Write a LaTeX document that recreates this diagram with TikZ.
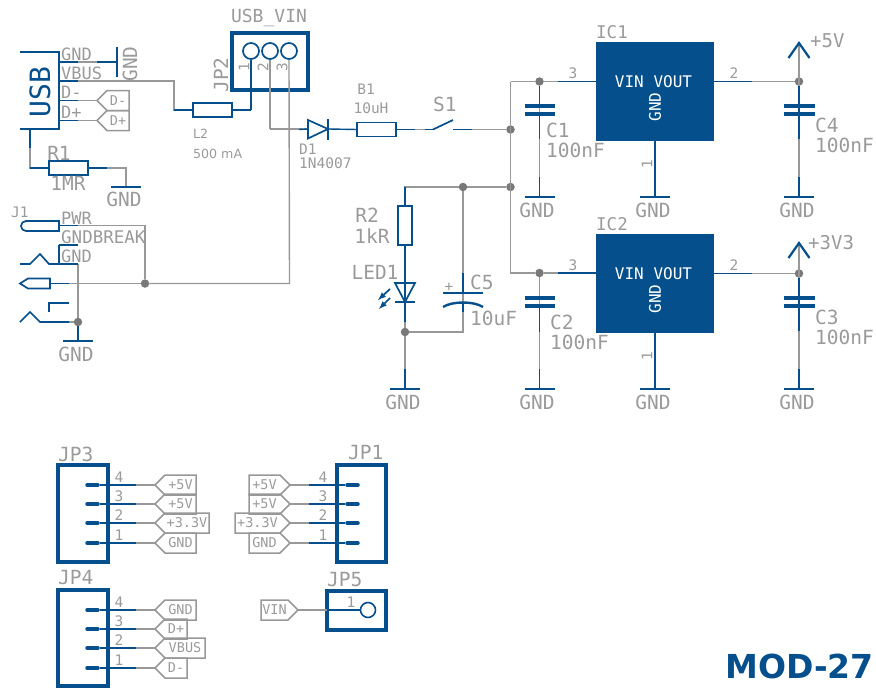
\documentclass[tikz,border=0pt]{standalone}
\usepackage{fontspec}
\usepackage{tikz}
\usetikzlibrary{calc,shapes.symbols}
\newfontfamily\schfont{DejaVu Sans Mono}
\newfontfamily\capfont{DejaVu Sans}
\definecolor{schblue}{HTML}{05508C}
\definecolor{schnet}{HTML}{989898}
\definecolor{schtext}{HTML}{9A9A9A}
\begin{document}
\begin{tikzpicture}[x=1pt,y=-1pt]
\path [use as bounding box] (0,0) rectangle (876,688);
\tikzstyle{bullet} = [circle, fill=gray!95!black, inner sep=0pt, minimum size=8.5pt]
\tikzstyle{net} = [schnet, line width=1.4pt]
\tikzstyle{pin} = [schblue, line width=1.4pt]
\tikzstyle{sym} = [schblue, line width=1.7pt]
\tikzstyle{bar} = [schblue, line width=2.2pt]
\tikzstyle{plate} = [schblue, line width=3.4pt]
\tikzstyle{frame} = [schblue, line width=3.2pt]
\tikzstyle{stub} = [schblue, line width=3.5pt, line cap=round]
\tikzstyle{res} = [draw=schblue, line width=1.7pt, minimum width=39pt, minimum height=14pt, inner sep=0pt, outer sep=0pt]
\tikzstyle{ic} = [fill=schblue, minimum width=118pt, minimum height=99pt, inner sep=0pt, outer sep=0pt]
\tikzstyle{lab} = [schtext, inner sep=0pt, font=\schfont\fontsize{19.5}{20}\selectfont]
\tikzstyle{mid} = [schtext, inner sep=0pt, font=\schfont\fontsize{17}{17}\selectfont]
\tikzstyle{tiny} = [schtext, inner sep=0pt, font=\schfont\fontsize{14.5}{15}\selectfont]
\tikzstyle{inside} = [white, inner sep=0pt, font=\schfont\fontsize{16}{16}\selectfont]
\tikzstyle{port} = [signal, signal pointer angle=90, draw=schnet, line width=1.5pt, minimum height=20pt, inner sep=0pt, outer sep=0pt, text=schtext, font=\schfont\fontsize{13.5}{14}\selectfont]
\tikzstyle{portl} = [port, signal to=west, anchor=west]
\tikzstyle{portr} = [port, signal to=east, anchor=east]
% usb connector
\coordinate (usbG) at (59,62);
\coordinate (usbV) at (59,81);
\coordinate (usbS) at (30,129);
\coordinate (usbK) at (30,168);
\coordinate (gndA) at (117,62);
\coordinate (vbusA) at (174,81);
\coordinate (vbusB) at (174,110);
\coordinate (pinA) at (251,110);
\coordinate (r1A) at (126,168);
\coordinate (gndB) at (126,187);
\node[res] (L2) at (212.5,110) {};
\node[res] (R1) at (68.5,168) {};
\node[portl, minimum width=32pt] (pDm) at (97,100.5) {D-\hspace{7pt}};
\node[portl, minimum width=32pt] (pDp) at (97,120.5) {D+\hspace{7pt}};
\draw[net] (usbG) -- (gndA);
\draw[net] (usbV) -- (vbusA) -- (vbusB) -- (L2.west);
\draw[net] (L2.east) -- (pinA);
\draw[net] (59,100.5) -- (pDm.west);
\draw[net] (59,120.5) -- (pDp.west);
\draw[net] (usbS) -- (usbK) -- (R1.west);
\draw[net] (R1.east) -- (r1A) -- (gndB);
\draw[sym] (20,52) -- (59,52) -- (59,129) -- (20,129);
\draw[pin] (usbG) -- +(19,0);
\draw[pin] (gndA) -- +(-20,0);
\draw[pin] (usbV) -- +(19,0);
\draw[pin] (59,100.5) -- +(19,0);
\draw[pin] (59,120.5) -- +(19,0);
\draw[pin] (usbS) -- +(0,19);
\draw[pin] (usbK) -- (R1.west);
\draw[pin] (R1.east) -- +(19,0);
\draw[pin] (L2.west) -- +(-19,0);
\draw[pin] (L2.east) -- +(19,0);
\draw[bar] (gndA) +(0,-15) -- +(0,15);
\draw[bar] (gndB) +(-15,0) -- +(15,0);
\node[lab, schblue, rotate=90] (usbL) at (40,92) {\fontsize{28}{28}\selectfont USB};
\node[mid, anchor=west] (tGnd) at (61,54) {GND};
\node[mid, anchor=west] (tVbus) at (61,73) {VBUS};
\node[mid, anchor=west] (tDm) at (61,92) {D-};
\node[mid, anchor=west] (tDp) at (61,112) {D+};
\node[lab, rotate=90] (tGndA) at (130,64) {GND};
\node[lab] (tR1) at (59,153) {R1};
\node[lab] (t1MR) at (68,183) {1MR};
\node[lab] (tGndB) at (124,199) {GND};
\node[anchor=west, schtext, inner sep=0pt, font=\capfont\fontsize{12.6}{14}\selectfont] (tL2) at (193,134) {L2};
\node[anchor=west, schtext, inner sep=0pt, font=\capfont\fontsize{12.6}{14}\selectfont] (t500) at (193,154) {500 mA};
% jp2 header
\node[draw=schblue, line width=3.2pt, minimum width=76pt, minimum height=57pt, inner sep=0pt] (JP2) at (270,61.5) {};
\node[circle, draw=schblue, line width=1.7pt, inner sep=0pt, minimum size=16pt] (h1) at (251,51) {};
\node[circle, draw=schblue, line width=1.7pt, inner sep=0pt, minimum size=16pt] (h2) at (270,51) {};
\node[circle, draw=schblue, line width=1.7pt, inner sep=0pt, minimum size=16pt] (h3) at (289,51) {};
\coordinate (p2A) at (270,129);
\coordinate (p3A) at (289.5,283.5);
\node[bullet] (jPwr) at (145,283.5) {};
\draw[net] (h2.south) -- (p2A);
\draw[net] (h3.south) -- (p3A) -- (jPwr);
\draw[pin] (h1.south) -- (pinA);
\node[lab] (tUsbVin) at (269,18) {\fontsize{18}{18}\selectfont USB\_VIN};
\node[lab, rotate=90] (tJP2) at (221,75) {JP2};
\node[tiny, rotate=90] (n1) at (244,67) {1};
\node[tiny, rotate=90] (n2) at (263,67) {2};
\node[tiny, rotate=90] (n3) at (282,67) {3};
% diode, choke, switch
\coordinate (dA) at (308,129);
\coordinate (dB) at (328,129);
\coordinate (swA) at (433,129.5);
\coordinate (swB) at (453,129.5);
\node[res] (B1) at (376.5,129.5) {};
\node[bullet] (jSw) at (510.5,129.5) {};
\draw[net] (p2A) -- (dA);
\draw[net] (B1.east) -- (swA);
\draw[net] (swB) -- (jSw);
\draw[pin] (299,129.5) -- (dA);
\draw[pin] (dB) -- (B1.west);
\draw[pin] (B1.east) -- +(19,0);
\draw[pin] (swA) -- +(-8,0);
\draw[pin] (swB) -- +(19,0);
\draw[sym] (308,120) -- (dB) -- (308,138.5) -- cycle;
\draw[sym] (328,119) -- (328,140);
\draw[sym] (swA) -- (453,120);
\node[tiny] (tB1) at (366,89) {B1};
\node[tiny] (t10uH) at (371,108) {10uH};
\node[tiny, anchor=west] (tD1) at (299,149) {D1};
\node[tiny, anchor=west] (t1N) at (299,163) {1N4007};
\node[lab, anchor=west] (tS1) at (433,104) {S1};
% power rail
\coordinate (railT) at (510.5,81.5);
\coordinate (railB) at (510.5,273);
\node[bullet] (jC1) at (539.5,81.5) {};
\node[bullet] (jC2) at (539.5,273) {};
\node[bullet] (jR) at (510.5,187) {};
\node[bullet] (jC5) at (463,187) {};
\node[bullet] (jLed) at (405,332) {};
\coordinate (rT) at (405,187);
\coordinate (c5A) at (463,293);
\coordinate (c5B) at (463,332);
\node[res, minimum width=14pt, minimum height=39pt] (R2) at (405,225.5) {};
\node[ic] (IC1) at (655,91.5) {};
\node[ic] (IC2) at (655,283.5) {};
\draw[net] (railT) -- (railB) -- (jC2) -- (IC2.west |- jC2);
\draw[net] (railT) -- (jC1) -- (IC1.west |- jC1);
\draw[net] (jR) -- (jC5) -- (rT) -- (R2.north);
\draw[net] (jC5) -- (c5A);
\draw[net] (R2.south) -- (jLed) -- (405,389);
\draw[net] (c5A) -- (c5B) -- (jLed);
\draw[pin] (R2.north) -- +(0,-19);
\draw[pin] (R2.south) -- (405,322);
\draw[pin] (405,369) -- (405,389);
\draw[pin] (463,273) -- (c5A);
\draw[pin] (463,303) -- (463,312);
\draw[pin] (558,81.5) -- (IC1.west |- jC1);
\draw[pin] (558,273) -- (IC2.west |- jC2);
\draw[bar] (390,389) -- (420,389);
\draw[sym] (395,283) -- (415,283) -- (405,302) -- cycle;
\draw[sym] (395,302) -- (415,302);
\draw[plate, line width=2.4pt] (443,293) -- (483,293);
\draw[plate, line width=2.4pt] (443,307) .. controls (452,301) and (474,301) .. (483,307);
\draw[sym, -latex] (390,289) -- (378,300);
\draw[sym, -latex] (390,298) -- (379,309);
\node[lab] (tR2) at (367,215) {R2};
\node[lab] (t1kR) at (372,236) {1kR};
\node[lab] (tLED) at (375,272) {LED1};
\node[tiny] (tPlus) at (449,287) {+};
\node[lab, anchor=west] (tC5) at (470,282) {C5};
\node[lab, anchor=west] (t10uF) at (470,318) {10uF};
\node[lab] (tGndC) at (403,402) {GND};
% capacitors
\draw[net] (jC1) -- (539.5,197);
\draw[pin] (jC1) -- (539.5,106);
\draw[pin] (539.5,114) -- (539.5,139);
\draw[pin] (539.5,177) -- (539.5,197);
\draw[plate] (524.5,106) -- (554.5,106);
\draw[plate] (524.5,114) -- (554.5,114);
\draw[bar] (524.5,197) -- (554.5,197);
\draw[net] (jC2) -- (539.5,389);
\draw[pin] (539.5,306) -- (539.5,332);
\draw[pin] (539.5,369) -- (539.5,389);
\draw[plate] (524.5,298) -- (554.5,298);
\draw[plate] (524.5,306) -- (554.5,306);
\draw[bar] (524.5,389) -- (554.5,389);
\node[tiny] (n3a) at (573,73) {3};
\node[tiny] (n3b) at (573,265) {3};
\node[lab, anchor=west] (tC1) at (546,130) {C1};
\node[lab, anchor=west] (tC1v) at (546,150) {100nF};
\node[lab] (tGndD) at (537,210) {GND};
\node[lab, anchor=west] (tC2) at (550,322) {C2};
\node[lab, anchor=west] (tC2v) at (550,342) {100nF};
\node[lab] (tGndE) at (537,402) {GND};
% regulators
\node[bullet] (jOutA) at (799,81.5) {};
\node[bullet] (jOutB) at (799,273.5) {};
\coordinate (supA) at (799,43);
\coordinate (supB) at (799,243);
\draw[net] (IC1.east |- jOutA) -- (jOutA);
\draw[net] (IC2.east |- jOutB) -- (jOutB);
\draw[net] (supA) -- (799,197);
\draw[net] (supB) -- (799,389);
\draw[pin] (IC1.east |- jOutA) -- +(38,0);
\draw[pin] (IC2.east |- jOutB) -- +(38,0);
\draw[pin] (IC1.south) -- (655,197);
\draw[pin] (IC2.south) -- (655,389);
\draw[pin] (jOutA) -- (799,139);
\draw[pin] (799,177) -- (799,197);
\draw[pin] (jOutB) -- (799,331);
\draw[pin] (799,369) -- (799,389);
\draw[sym, line width=2.2pt] (supA) +(-10.5,15) -- (supA) -- +(10.5,15);
\draw[sym, line width=2.2pt] (supB) +(-10.5,15) -- (supB) -- +(10.5,15);
\draw[plate] (784,106) -- (815,106);
\draw[plate] (784,114) -- (815,114);
\draw[plate] (784,298) -- (815,298);
\draw[plate] (784,306) -- (815,306);
\draw[bar] (640,197) -- (670,197);
\draw[bar] (640,389) -- (670,389);
\draw[bar] (784,197) -- (814,197);
\draw[bar] (784,389) -- (814,389);
\node[inside] (vA) at (653.5,82) {VIN VOUT};
\node[inside] (vB) at (653.5,274) {VIN VOUT};
\node[inside, rotate=90] (gA) at (655,107) {GND};
\node[inside, rotate=90] (gB) at (655,299) {GND};
\node[mid, anchor=west] (tIC1) at (596,32) {\fontsize{17.5}{18}\selectfont IC1};
\node[mid, anchor=west] (tIC2) at (596,224) {\fontsize{17.5}{18}\selectfont IC2};
\node[tiny] (n2a) at (734,73) {2};
\node[tiny] (n2b) at (734,265) {2};
\node[tiny, rotate=90] (n1a) at (647,164) {1};
\node[tiny, rotate=90] (n1b) at (647,356) {1};
\node[mid, anchor=west] (t5V) at (810,41) {\fontsize{19}{19}\selectfont +5V};
\node[mid, anchor=west] (t3V3) at (808,243) {\fontsize{19}{19}\selectfont +3V3};
\node[lab, anchor=west] (tC4) at (815,125) {C4};
\node[lab, anchor=west] (tC4v) at (815,145) {100nF};
\node[lab, anchor=west] (tC3) at (815,317) {C3};
\node[lab, anchor=west] (tC3v) at (815,337) {100nF};
\node[lab] (tGndF) at (653,210) {GND};
\node[lab] (tGndG) at (653,402) {GND};
\node[lab] (tGndH) at (797,210) {GND};
\node[lab] (tGndI) at (797,402) {GND};
% power jack
\coordinate (jkA) at (59,225.5);
\coordinate (jkB) at (145,225.5);
\coordinate (jkC) at (78,264);
\coordinate (jkD) at (50,283.5);
\node[bullet] (jGnd) at (78,322) {};
\coordinate (gndC) at (78,341);
\draw[net] (jkA) -- (jkB) -- (jPwr);
\draw[net] (jkC) -- (jGnd);
\draw[net] (jkD) -- (jPwr);
\draw[net] (40,322) -- (jGnd);
\draw[pin] (jGnd) -- (gndC);
\draw[pin] (jkA) -- +(19,0);
\draw[pin] (59,245) -- (78,245);
\draw[pin] (59,264) -- (jkC);
\draw[pin] (jkD) -- +(19,0);
\draw[sym] (59,221) -- (26,221) arc[start angle=90, end angle=270, radius=5pt] -- (59,231) -- cycle;
\draw[sym] (20,264) -- (30,264) -- (40,254) -- (49,264) -- (59,264) -- (59,245);
\draw[sym] (jkD) -- (50,278.5) -- (28,278.5) -- (20,283.5) -- (28,288.5) -- (50,288.5) -- cycle;
\draw[sym] (49,312) -- (49,303) -- (69,303);
\draw[sym] (20,322) -- (30,312) -- (40,322) -- (69,322);
\draw[bar] (63,341) -- (93,341);
\node[tiny, anchor=west] (tJ1) at (11,212) {J1};
\node[mid, anchor=west] (tPWR) at (61,218) {PWR};
\node[mid, anchor=west] (tBrk) at (61,237) {\fontsize{17.5}{17}\selectfont GNDBREAK};
\node[mid, anchor=west] (tGj) at (61,256) {GND};
\node[lab] (tGndJ) at (76,354) {GND};
% pin headers
\draw[frame] (58,465) rectangle (108,562);
\draw[frame] (337,465) rectangle (386,562);
\draw[frame] (58,590) rectangle (108,686);
\draw[frame] (327,591) rectangle (386,630);
\node[portl, minimum width=41pt] (a4) at (155,485) {+5V\hspace{8pt}};
\node[portl, minimum width=41pt] (a3) at (155,504) {+5V\hspace{8pt}};
\node[portl, minimum width=54pt] (a2) at (155,523) {+3.3V\hspace{8pt}};
\node[portl, minimum width=41pt] (a1) at (155,543) {GND\hspace{8pt}};
\node[portr, minimum width=41pt] (b4) at (290,485) {+5V\hspace{6pt}};
\node[portr, minimum width=41pt] (b3) at (290,504) {+5V\hspace{6pt}};
\node[portr, minimum width=55pt] (b2) at (290,523) {+3.3V\hspace{6pt}};
\node[portr, minimum width=41pt] (b1) at (290,543) {GND\hspace{6pt}};
\node[portl, minimum width=41pt] (c4) at (155,610) {GND\hspace{8pt}};
\node[portl, minimum width=32pt] (c3) at (155,629) {D+\hspace{8pt}};
\node[portl, minimum width=50pt] (c2) at (155,648) {VBUS\hspace{8pt}};
\node[portl, minimum width=32pt] (c1) at (155,668) {D-\hspace{8pt}};
\node[portr, minimum width=37pt] (d1) at (298,610) {VIN\hspace{5pt}};
\node[circle, draw=schblue, line width=1.6pt, inner sep=0pt, minimum size=15pt] (h5) at (368,610) {};
\draw[net] (100,485) -- (a4.west);
\draw[net] (100,504) -- (a3.west);
\draw[net] (100,523) -- (a2.west);
\draw[net] (100,543) -- (a1.west);
\draw[net] (b4.east) -- (345,485);
\draw[net] (b3.east) -- (345,504);
\draw[net] (b2.east) -- (345,523);
\draw[net] (b1.east) -- (345,543);
\draw[net] (100,610) -- (c4.west);
\draw[net] (100,629) -- (c3.west);
\draw[net] (100,648) -- (c2.west);
\draw[net] (100,668) -- (c1.west);
\draw[net] (d1.east) -- (h5.west);
\draw[pin] (100,485) -- (136,485);
\draw[pin] (100,504) -- (136,504);
\draw[pin] (100,523) -- (136,523);
\draw[pin] (100,543) -- (136,543);
\draw[pin] (309,485) -- (345,485);
\draw[pin] (309,504) -- (345,504);
\draw[pin] (309,523) -- (345,523);
\draw[pin] (309,543) -- (345,543);
\draw[pin] (100,610) -- (136,610);
\draw[pin] (100,629) -- (136,629);
\draw[pin] (100,648) -- (136,648);
\draw[pin] (100,668) -- (136,668);
\draw[pin] (327,610) -- (h5.west);
\draw[stub] (87,485) -- (98,485);
\draw[stub] (87,504) -- (98,504);
\draw[stub] (87,523) -- (98,523);
\draw[stub] (87,543) -- (98,543);
\draw[stub] (347,485) -- (358,485);
\draw[stub] (347,504) -- (358,504);
\draw[stub] (347,523) -- (358,523);
\draw[stub] (347,543) -- (358,543);
\draw[stub] (87,610) -- (98,610);
\draw[stub] (87,629) -- (98,629);
\draw[stub] (87,648) -- (98,648);
\draw[stub] (87,668) -- (98,668);
\node[lab, anchor=west] (tJP3) at (58,454) {JP3};
\node[lab, anchor=west] (tJP1) at (348,453) {JP1};
\node[lab, anchor=west] (tJP4) at (58,578) {JP4};
\node[lab, anchor=west] (tJP5) at (327,580) {JP5};
\node[tiny] (a4n) at (119,477) {4};
\node[tiny] (a3n) at (119,496) {3};
\node[tiny] (a2n) at (119,515) {2};
\node[tiny] (a1n) at (119,535) {1};
\node[tiny] (b4n) at (323,477) {4};
\node[tiny] (b3n) at (323,496) {3};
\node[tiny] (b2n) at (323,515) {2};
\node[tiny] (b1n) at (323,535) {1};
\node[tiny] (c4n) at (119,602) {4};
\node[tiny] (c3n) at (119,621) {3};
\node[tiny] (c2n) at (119,640) {2};
\node[tiny] (c1n) at (119,660) {1};
\node[tiny] (d1n) at (351,602) {1};
\node[anchor=east, schblue, inner sep=0pt, font=\capfont\bfseries\fontsize{33}{33}\selectfont] (title) at (874,666) {MOD-27};
\end{tikzpicture}
\end{document}
